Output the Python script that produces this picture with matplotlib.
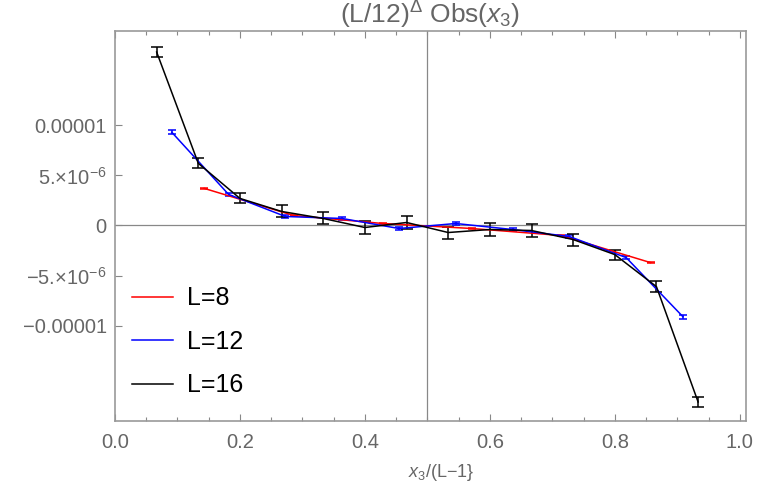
import numpy as np
import matplotlib.pyplot as plt
from matplotlib.ticker import MultipleLocator, FixedLocator
from matplotlib.lines import Line2D

plt.rcParams['font.family'] = ['Liberation Sans', 'DejaVu Sans']
plt.rcParams['mathtext.fontset'] = 'custom'
plt.rcParams['mathtext.rm'] = 'Liberation Sans'
plt.rcParams['mathtext.it'] = 'Liberation Sans:italic'

# L=8 data
k8 = np.arange(1, 7)
y8 = [3.7, 1.0, 0.2, -0.3, -1.0, -3.7]
e8 = [0.05, 0.05, 0.05, 0.05, 0.05, 0.05]
# L=12 data
k12 = np.arange(1, 11)
y12 = [9.3, 3.1, 0.9, 0.7, -0.3, 0.2, -0.4, -1.1, -3.2, -9.1]
e12 = [0.2, 0.15, 0.15, 0.15, 0.15, 0.15, 0.15, 0.15, 0.15, 0.2]
# L=16 data
k16 = np.arange(1, 15)
y16 = [17.3, 6.2, 2.7, 1.4, 0.7, -0.2, 0.3, -0.7, -0.4, -0.5, -1.4, -2.9, -6.1, -17.6]
e16 = [0.5, 0.5, 0.5, 0.6, 0.6, 0.6, 0.6, 0.6, 0.6, 0.6, 0.6, 0.5, 0.55, 0.5]

gray = '#666666'
fig = plt.figure(figsize=(7.61, 4.92), dpi=100)
ax = fig.add_axes([115/761, 1-421/492, (746-115)/761, (421-31)/492])

ax.axhline(0, color='#888888', lw=0.9, zorder=1)
ax.axvline(0.5, color='#888888', lw=0.9, zorder=1)

handles = []
for L, k, y, e, c, cs in [(8, k8, y8, e8, 'red', 3), (12, k12, y12, e12, 'blue', 3), (16, k16, y16, e16, 'black', 4)]:
    ax.errorbar(k / (L - 1), np.array(y) * 1e-6, yerr=np.array(e) * 1e-6, color=c,
                lw=1.1, elinewidth=1.1, capsize=cs, capthick=1.1, zorder=3)
    handles.append(Line2D([], [], color=c, lw=1.1, label='L=%d' % L))

ax.set_xlim(0, 1.01)
ax.set_ylim(-1.95e-5, 1.94e-5)
ax.xaxis.set_minor_locator(MultipleLocator(0.05))
ax.yaxis.set_major_locator(FixedLocator([-1e-5, -5e-6, 0, 5e-6, 1e-5]))
ax.set_yticklabels(['\u22120.00001', '\u22125.\u00d7$10^{-6}$', '0', '5.\u00d7$10^{-6}$', '0.00001'])
ax.set_xticks([0, 0.2, 0.4, 0.6, 0.8, 1.0])
ax.set_xticklabels(['0.0', '0.2', '0.4', '0.6', '0.8', '1.0'])
ax.tick_params(which='both', direction='in', top=True, right=False, colors='#888888',
               labelcolor=gray, labelsize=14.5)
ax.tick_params(axis='x', which='major', pad=9)
ax.tick_params(axis='y', which='major', pad=6)
ax.tick_params(which='major', length=5, width=0.8)
ax.tick_params(which='minor', length=3, width=0.8)
for s in ax.spines.values():
    s.set_color('#999999')
    s.set_linewidth(1.2)

ax.set_title('(L/12)$^{\\Delta}$ Obs($x_3$)', color=gray, fontsize=19, pad=2)
ax.set_xlabel('$x_3$/(L\u22121}', color=gray, fontsize=13)
ax.xaxis.set_label_coords(0.517, -0.105)

ax.legend(handles=handles, loc='upper left', bbox_to_anchor=(0.027, 0.345), frameon=False,
          fontsize=18, handlelength=1.65, labelspacing=0.78, handletextpad=0.55,
          borderpad=0, borderaxespad=0)

fig.savefig('out.png', dpi=100)
